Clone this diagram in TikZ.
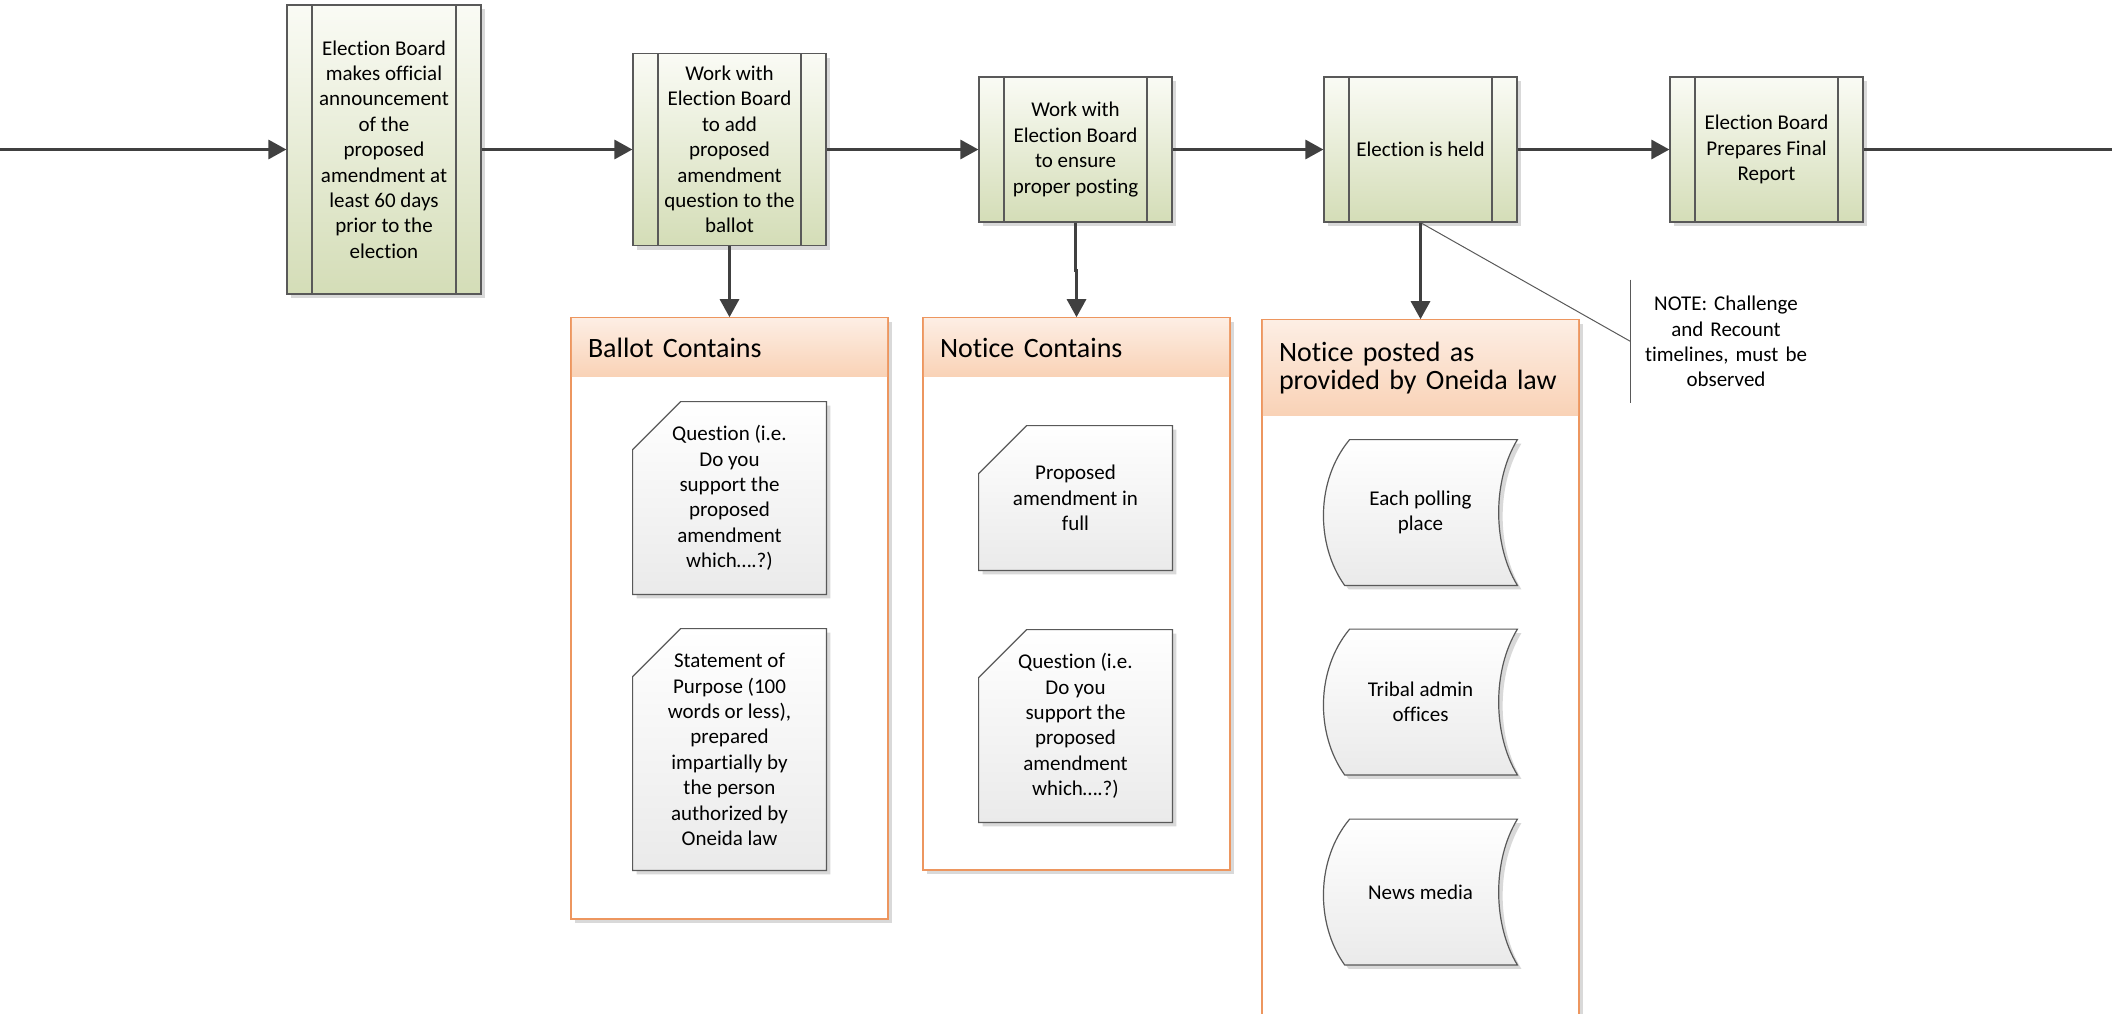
\documentclass[tikz,border=0pt]{standalone}
\usepackage{fontspec}
\setmainfont{Carlito}[Ligatures=NoCommon]
\usetikzlibrary{arrows.meta,calc,shadows}

\pgfdeclarelayer{background}
\pgfsetlayers{background,main}

\definecolor{linegray}{RGB}{89,89,89}
\definecolor{arrowgray}{RGB}{64,64,64}
\definecolor{procTop}{RGB}{250,251,245}
\definecolor{procBot}{RGB}{212,221,183}
\definecolor{cardBot}{RGB}{234,234,234}
\definecolor{contLine}{RGB}{237,150,95}
\definecolor{headTop}{RGB}{253,238,228}
\definecolor{headBot}{RGB}{249,210,182}

\newcommand{\procfont}{\fontsize{10.5}{12.7}\selectfont}
\newcommand{\headfont}{\fontsize{14}{14.2}\selectfont}

\begin{document}
\begin{tikzpicture}[x=0.5pt,y=-0.5pt,
    boxshadow/.style={drop shadow={shadow xshift=2pt,shadow yshift=-2pt,fill=black!15,opacity=1}},
    procbox/.style={draw=linegray,line width=0.6pt,top color=procTop,bottom color=procBot,
        inner sep=0pt,minimum width=96.5pt,align=center,font=\procfont,boxshadow,
        path picture={\draw[linegray,line width=0.6pt]
            ([xshift=12.5pt]path picture bounding box.north west) -- ([xshift=12.5pt]path picture bounding box.south west)
            ([xshift=-12.5pt]path picture bounding box.north east) -- ([xshift=-12.5pt]path picture bounding box.south east);}},
    contbox/.style={draw=contLine,line width=0.8pt,fill=white,minimum width=158.5pt,boxshadow},
    headbox/.style={top color=headTop,bottom color=headBot,
        inner sep=0pt,align=left,font=\headfont,anchor=north},
    cardtext/.style={inner sep=0pt,minimum width=96.5pt,align=center,font=\procfont},
    cardshape/.style={draw=linegray,line width=0.6pt,top color=white,bottom color=cardBot,boxshadow},
    notebox/.style={inner sep=0pt,text width=95pt,minimum height=61.5pt,align=center,font=\procfont},
    flowarrow/.style={draw=arrowgray,line width=1.5pt,-{Triangle[length=9pt,width=9.5pt]}},
    noteline/.style={draw=linegray,line width=0.5pt}]
\useasboundingbox (0,0) rectangle (2112,1013);

% containers
\begin{pgfonlayer}{background}
\node[contbox,minimum height=300.5pt] (c1) at (729.5,618.5) {};
\node[contbox,minimum width=153.5pt,minimum height=276pt] (c2) at (1076.5,594) {};
\node[contbox,minimum height=360pt] (c3) at (1420.5,680) {};
\end{pgfonlayer}

% process steps
\node[procbox,minimum width=97pt,minimum height=144.5pt] (p1) at (384,149.5)
    {Election Board\\makes official\\announcement\\of the\\proposed\\amendment at\\least 60 days\\prior to the\\election};
\node[procbox,minimum height=96pt] (p2) at (729.5,149.5)
    {Work with\\Election Board\\to add\\proposed\\amendment\\question to the\\ballot};
\node[procbox,minimum height=72.5pt] (p3) at (1075.5,149.5)
    {Work with\\Election Board\\to ensure\\proper posting};
\node[procbox,minimum height=72.5pt] (p4) at (1420.5,149.5) {Election is held};
\node[procbox,minimum height=72.5pt] (p5) at (1766.5,149.5)
    {Election Board\\Prepares Final\\Report};
\coordinate (in) at (0,149.5);
\coordinate (out) at (2112,149.5);

% headers
\node[headbox,minimum width=157.7pt,minimum height=29.1pt,text width=141.5pt] (h1) at ([yshift=-0.4pt]c1.north) {Ballot Contains};
\node[headbox,minimum width=152.7pt,minimum height=29.1pt,text width=136.5pt] (h2) at ([yshift=-0.4pt]c2.north) {Notice Contains};
\node[headbox,minimum width=157.7pt,minimum height=47.6pt,text width=141.5pt] (h3) at ([yshift=-0.4pt]c3.north)
    {Notice posted as\\provided by Oneida law};

% contents
\node[cardtext,minimum height=96pt] (q1) at (729.5,498)
    {Question (i.e.\\Do you\\support the\\proposed\\amendment\\which….?)};
\node[cardtext,minimum height=120.5pt] (q2) at (729.5,749.5)
    {Statement of\\Purpose (100\\words or less),\\prepared\\impartially by\\the person\\authorized by\\Oneida law};
\node[cardtext,minimum height=72pt] (q3) at (1075.5,498) {Proposed\\amendment in\\full};
\node[cardtext,minimum height=96pt] (q4) at (1075.5,726)
    {Question (i.e.\\Do you\\support the\\proposed\\amendment\\which….?)};
\node[cardtext,minimum height=72.5pt] (s1) at (1420.5,512.5) {Each polling\\place};
\node[cardtext,minimum height=72.5pt] (s2) at (1420.5,702) {Tribal admin\\offices};
\node[cardtext,minimum height=72.5pt] (s3) at (1420.5,892) {News media};

\begin{pgfonlayer}{background}
\foreach \n in {q1,q2,q3,q4}
    \shade[cardshape] ([yshift=-24pt]\n.north west) -- ([xshift=24pt]\n.north west)
        -- (\n.north east) -- (\n.south east) -- (\n.south west) -- cycle;
\foreach \n in {s1,s2,s3}
    \shade[cardshape] ([xshift=13pt]\n.north west) -- (\n.north east)
        .. controls ($(\n.north east)!0.28!(\n.south east)+(-12.5pt,0)$) and ($(\n.north east)!0.72!(\n.south east)+(-12.5pt,0)$) .. (\n.south east)
        -- ([xshift=10.5pt]\n.south west)
        .. controls ($(\n.north west)!0.72!(\n.south west)+(-4pt,0)$) and ($(\n.north west)!0.28!(\n.south west)+(-4pt,0)$) .. ([xshift=13pt]\n.north west) -- cycle;
\end{pgfonlayer}

% note
\node[notebox] (note) at (1726,341.5) {NOTE: Challenge\\and Recount\\timelines, must be\\observed};
\draw[noteline] (note.north west) -- (note.south west);
\draw[noteline] (p4.south) -- (note.west);

% connectors
\draw[flowarrow] (in) -- (p1.west);
\draw[flowarrow] (p1.east) -- (p2.west);
\draw[flowarrow] (p2.east) -- (p3.west);
\draw[flowarrow] (p3.east) -- (p4.west);
\draw[flowarrow] (p4.east) -- (p5.west);
\draw[draw=arrowgray,line width=1.5pt] (p5.east) -- (out);
\draw[flowarrow] (p2.south) -- (c1.north);
\draw[flowarrow] (p3.south) -- ++(0,-24pt) -| (c2.north);
\draw[flowarrow] (p4.south) -- (c3.north);
\end{tikzpicture}
\end{document}
